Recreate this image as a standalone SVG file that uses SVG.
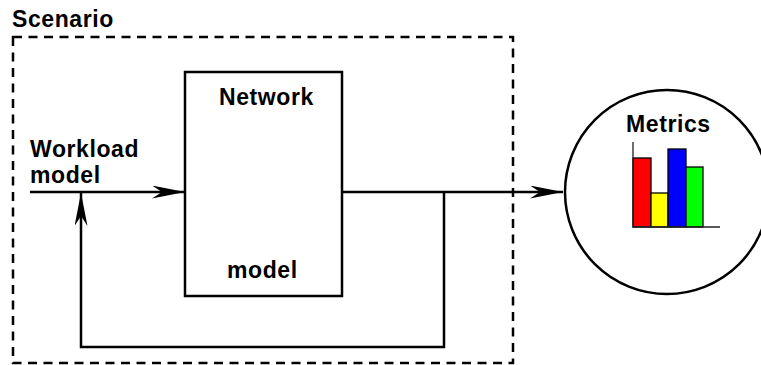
<svg xmlns="http://www.w3.org/2000/svg" width="761" height="365" viewBox="0 0 761 365">
<style>
text{font-family:"Liberation Sans",Arial,sans-serif;font-weight:bold;font-size:23px;letter-spacing:0.6px;fill:#000}
.ln{fill:none;stroke:#000;stroke-width:2.5}
.bar{stroke:#000;stroke-width:1.3}
</style>
<defs>
<marker id="ah" viewBox="0 0 33 13" refX="33" refY="6.5" markerWidth="33" markerHeight="13" markerUnits="userSpaceOnUse" orient="auto">
<path d="M33,6.5 L0,0 L10,6.5 L0,13 Z" fill="#000"/>
</marker>
</defs>
<rect width="761" height="365" fill="#fff"/>
<g id="scenario">
<rect x="13" y="37" width="500" height="326" fill="none" stroke="#000" stroke-width="2.5" stroke-dasharray="9,6.5"/>
<text x="12" y="27">Scenario</text>
</g>
<g id="workload">
<text x="30" y="157">Workload</text>
<text x="30" y="183">model</text>
</g>
<g id="network">
<rect x="185" y="72" width="157" height="224" class="ln"/>
<text x="219" y="105">Network</text>
<text x="227" y="278">model</text>
</g>
<g id="metrics">
<circle cx="667" cy="192" r="102" class="ln"/>
<text x="626" y="132">Metrics</text>
<rect x="633" y="158" width="18" height="69" fill="#f00" class="bar"/>
<rect x="651" y="193" width="17" height="34" fill="#ff0" class="bar"/>
<rect x="668" y="149" width="18" height="78" fill="#00f" class="bar"/>
<rect x="686" y="167" width="17" height="60" fill="#0f0" class="bar"/>
<path d="M633,142 V227 H720" fill="none" stroke="#222" stroke-width="1.3"/>
</g>
<g id="connectors">
<path d="M30,192 H185" class="ln" marker-end="url(#ah)"/>
<path d="M342,192 H563" class="ln" marker-end="url(#ah)"/>
<path d="M444,192 V347 H81 V193" class="ln" marker-end="url(#ah)"/>
</g>
</svg>
